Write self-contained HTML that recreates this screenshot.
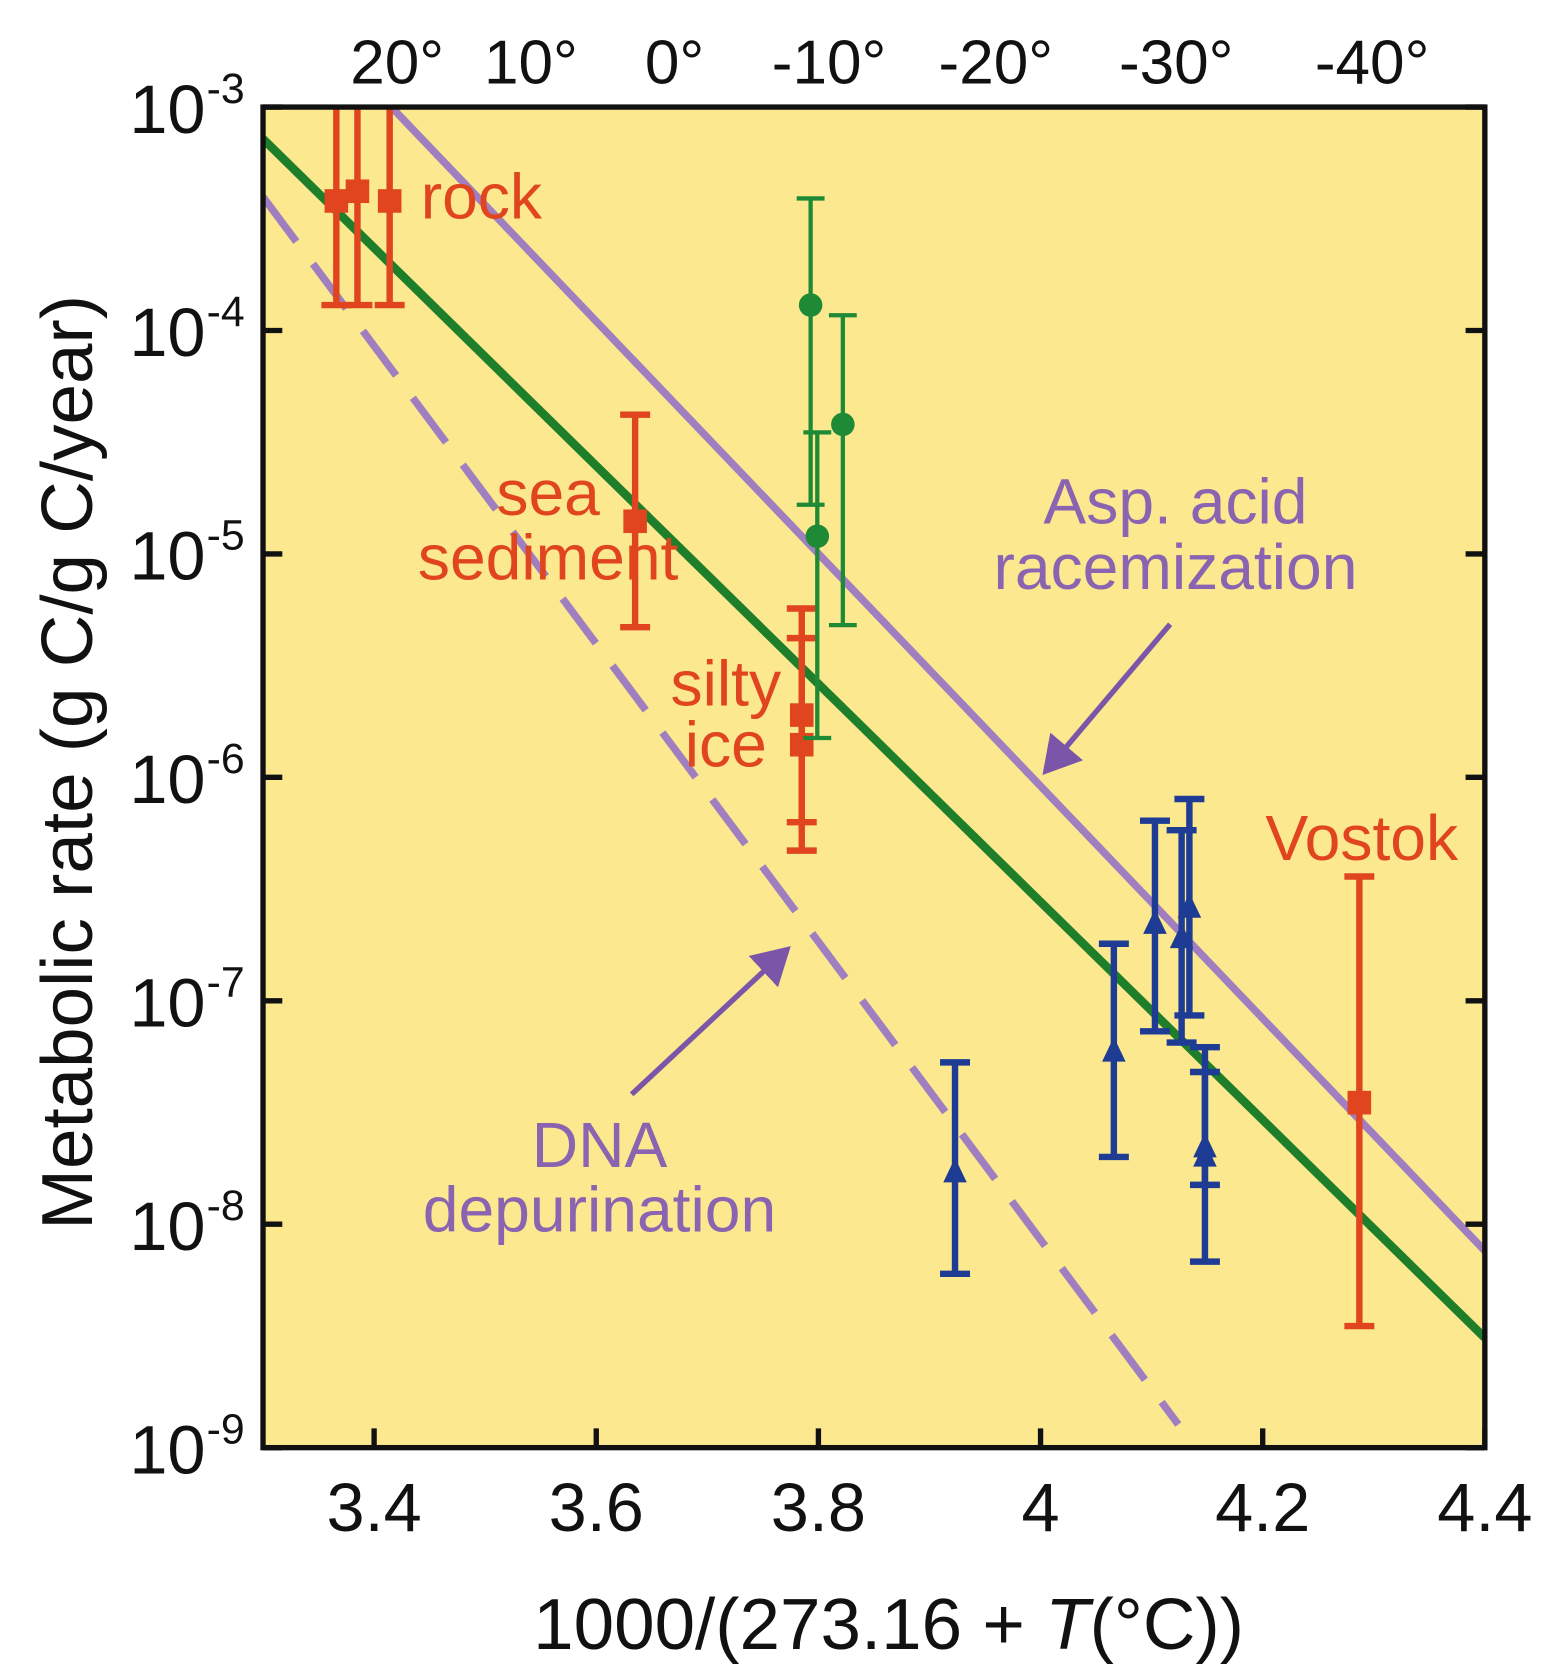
<!DOCTYPE html>
<html><head><meta charset="utf-8"><style>
html,body{margin:0;padding:0;background:#fff}
svg{display:block}
text{font-family:"Liberation Sans",sans-serif}
</style></head><body>
<svg id="chart" width="1563" height="1680" viewBox="0 0 1460 1569" preserveAspectRatio="none" xmlns="http://www.w3.org/2000/svg">
<defs>
<marker id="ah" markerWidth="8" markerHeight="8" refX="6" refY="4" orient="auto" markerUnits="strokeWidth"><path d="M0,0 L7,4 L0,8 z" fill="#7a55a8"/></marker>
</defs>
<rect x="245.7" y="100" width="1141.3" height="1252" fill="#fbe88f"/>
<g id="marks"></g>
<rect x="245.7" y="100" width="1141.3" height="1252" fill="none" stroke="#111" stroke-width="5"/>
<g id="axes"></g>
<g id="labels" font-size="60">
<text x="393" y="204" fill="#e0451f">rock</text>
<text x="512" y="481" text-anchor="middle" fill="#e0451f">sea</text>
<text x="512" y="541" text-anchor="middle" fill="#e0451f">sediment</text>
<text x="678" y="659" text-anchor="middle" fill="#e0451f">silty</text>
<text x="678" y="716" text-anchor="middle" fill="#e0451f">ice</text>
<text x="1272" y="803" text-anchor="middle" fill="#e0451f">Vostok</text>
<text x="1098" y="489" text-anchor="middle" fill="#8a64b0">Asp. acid</text>
<text x="1098" y="550" text-anchor="middle" fill="#8a64b0">racemization</text>
<text x="560" y="1090" text-anchor="middle" fill="#8a64b0">DNA</text>
<text x="560" y="1150" text-anchor="middle" fill="#8a64b0">depurination</text>
<line x1="1093" y1="583" x2="977" y2="720" stroke="#7a55a8" stroke-width="5" marker-end="url(#ah)"/>
<line x1="590" y1="1022" x2="735" y2="887" stroke="#7a55a8" stroke-width="5" marker-end="url(#ah)"/>
<text transform="translate(86,712) rotate(-90)" text-anchor="middle" font-size="68" fill="#111">Metabolic rate (g C/g C/year)</text>
<text x="830" y="1540" text-anchor="middle" font-size="68" fill="#111">1000/(273.16 + <tspan font-style="italic">T</tspan>(°C))</text>
</g>
</svg>
<script>
const xTicks=[3.4,3.6,3.8,4,4.2,4.4];
const xTickLabels=["3.4","3.6","3.8","4","4.2","4.4"];
const yTicks=[-3,-4,-5,-6,-7,-8,-9];
const tempTicks=[20,10,0,-10,-20,-30,-40];
const rockX=[3.366,3.385,3.414];
const rockY=[3.8e-4,4.2e-4,3.8e-4];
const rockLo=[1.3e-4,1.3e-4,1.3e-4];
const rockHi=[1.2e-3,1.2e-3,1.2e-3];
const redX=[3.635,3.785,3.785,4.287];
const redY=[1.4e-5,1.9e-6,1.4e-6,3.5e-8];
const redLo=[4.7e-6,4.7e-7,6.3e-7,3.5e-9];
const redHi=[4.2e-5,5.7e-6,4.2e-6,3.6e-7];
const greenX=[3.793,3.822,3.799];
const greenY=[1.3e-4,3.8e-5,1.2e-5];
const greenLo=[1.66e-5,4.8e-6,1.5e-6];
const greenHi=[3.9e-4,1.17e-4,3.5e-5];
const blueX=[3.923,4.066,4.103,4.127,4.134,4.148,4.148];
const blueY=[1.7e-8,5.9e-8,2.2e-7,1.9e-7,2.6e-7,2.2e-8,2.0e-8];
const blueLo=[6e-9,2e-8,7.3e-8,6.5e-8,8.6e-8,6.8e-9,1.5e-8];
const blueHi=[5.3e-8,1.8e-7,6.4e-7,5.8e-7,8e-7,4.8e-8,6.2e-8];
const greenFitX=[3.3,4.4];const greenFitY=[7.2e-4,3.1e-9];
const aspFitX=[3.4156,4.4];const aspFitY=[1e-3,7.6e-9];
const dnaFitX=[3.3,4.124];const dnaFitY=[3.96e-4,1.27e-9];

const L=245.7,R=1387,T=100,B=1352;
const xs=v=>L+(v-3.3)/1.1*(R-L);
const ys=v=>T+(-3-Math.log10(v))/6*(B-T);
const NS="http://www.w3.org/2000/svg";
const marks=document.getElementById('marks'),axes=document.getElementById('axes');
function mk(tag,attrs,parent){const e=document.createElementNS(NS,tag);for(const k in attrs)e.setAttribute(k,attrs[k]);parent.appendChild(e);return e;}
const clip=mk('clipPath',{id:'pc'},document.querySelector('defs'));
mk('rect',{x:L,y:T,width:R-L,height:B-T},clip);
marks.setAttribute('clip-path','url(#pc)');

function fit(xa,ya,color,dash,name,w){
  const l=mk('line',{x1:xs(xa[0]),y1:ys(ya[0]),x2:xs(xa[1]),y2:ys(ya[1]),stroke:color,'stroke-width':w},marks);
  if(dash)l.setAttribute('stroke-dasharray',dash);
  
  
}
fit(dnaFitX,dnaFitY,'#a07fc0','52 26','dna-depurination-line',7);
fit(aspFitX,aspFitY,'#a07fc0',null,'asp-acid-racemization-line',7);
fit(greenFitX,greenFitY,'#1f7e2a',null,'green-fit-line',8);

function series(X,Y,Lo,Hi,color,shape,name,sw,cap){
  X.forEach((x,i)=>{
    const g=mk('g',{},marks);
    
    
    const cx=xs(x);
    mk('line',{x1:cx,x2:cx,y1:ys(Hi[i]),y2:ys(Lo[i]),stroke:color,'stroke-width':sw},g);
    mk('line',{x1:cx-cap,x2:cx+cap,y1:ys(Hi[i]),y2:ys(Hi[i]),stroke:color,'stroke-width':sw},g);
    mk('line',{x1:cx-cap,x2:cx+cap,y1:ys(Lo[i]),y2:ys(Lo[i]),stroke:color,'stroke-width':sw},g);
    const cy=ys(Y[i]);
    if(shape==='sq')mk('rect',{x:cx-11,y:cy-11,width:22,height:22,fill:color},g);
    else if(shape==='c')mk('circle',{cx:cx,cy:cy,r:11,fill:color},g);
    else mk('path',{d:`M${cx},${cy-14}L${cx+11},${cy+9}L${cx-11},${cy+9}Z`,fill:color},g);
  });
}
series(rockX,rockY,rockLo,rockHi,'#e0451f','sq','rock',6,14);
series(redX,redY,redLo,redHi,'#e0451f','sq','red-sample',6,14);
series(greenX,greenY,greenLo,greenHi,'#1f8a35','c','green-sample',4,13);
series(blueX,blueY,blueLo,blueHi,'#1f3c94','tri','blue-sample',6,14);

xTicks.forEach((v,i)=>{
  const x=xs(v);
  mk('line',{x1:x,x2:x,y1:B,y2:B-18,stroke:'#111','stroke-width':5},axes);
  const t=mk('text',{x:x,y:1430,'text-anchor':'middle','font-size':64,fill:'#111'},axes);
  t.textContent=xTickLabels[i];
  
  
});
yTicks.forEach(p=>{
  const y=ys(Math.pow(10,p));
  mk('line',{x1:L,x2:L+18,y1:y,y2:y,stroke:'#111','stroke-width':5},axes);
  mk('line',{x1:R,x2:R-18,y1:y,y2:y,stroke:'#111','stroke-width':5},axes);
  const t=mk('text',{x:192,y:y+24,'text-anchor':'end','font-size':64,fill:'#111'},axes);
  t.textContent='10';
  
  
  const s=mk('text',{x:193,y:y-4,'font-size':40,fill:'#111'},axes);
  s.textContent='-'+(-p);
  
  
});
tempTicks.forEach(tc=>{
  const x=xs(1000/(273.16+tc));
  const t=mk('text',{x:x+10,y:78,'text-anchor':'middle','font-size':58,fill:'#111'},axes);
  t.textContent=tc+'°';
  
  
});
</script>
</body></html>
